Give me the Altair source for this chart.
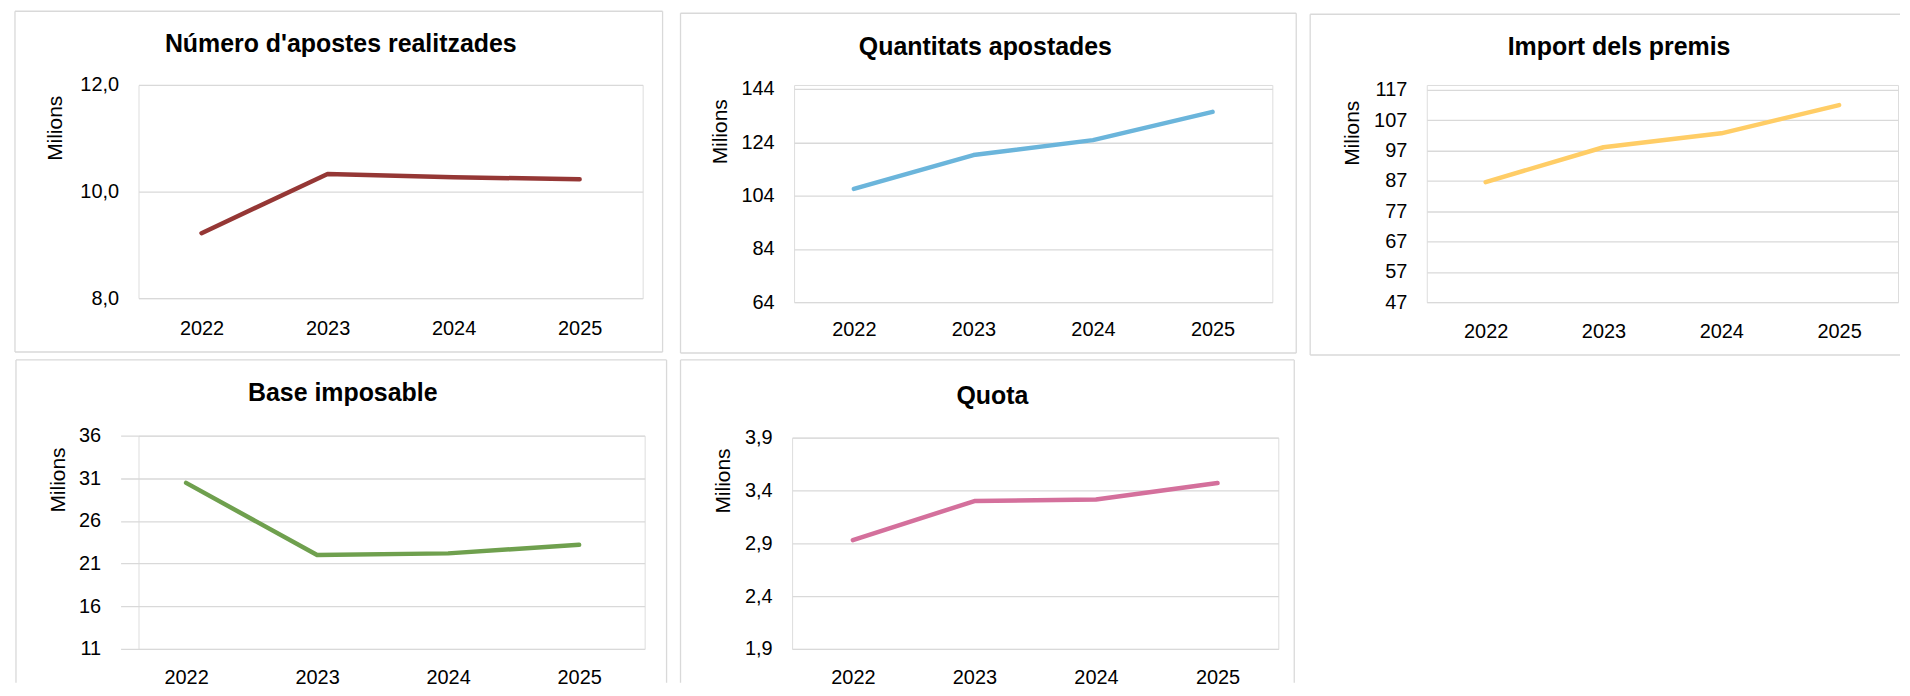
import altair as alt
import pandas as pd

years = ["2022", "2023", "2024", "2025"]

apostes = [9.22, 10.33, 10.27, 10.23]
quantitats = [106.5, 119.2, 124.8, 135.4]
premis = [86.6, 98.1, 102.7, 112.0]
base_imposable = [30.47, 22.0, 22.2, 23.2]
quota = [2.93, 3.30, 3.315, 3.47]

titles = ["Número d'apostes realitzades", "Quantitats apostades",
          "Import dels premis", "Base imposable", "Quota"]

ticks_apostes = [8, 10, 12]
ticks_quantitats = [64, 84, 104, 124, 144]
ticks_premis = [47, 57, 67, 77, 87, 97, 107, 117]
ticks_base = [11, 16, 21, 26, 31, 36]
ticks_quota = [1.9, 2.4, 2.9, 3.4, 3.9]

colors = ["#953735", "#6BB5DB", "#FFCD66", "#6FA04E", "#D4709C"]

FONT = "Liberation Sans"
FRAME = "#d9d9d9"
ONE = alt.Data(values=[{}])


def frame_rule(kind, x0, x1, y0, y1):
    r = alt.Chart(ONE).mark_rule(color=FRAME, strokeWidth=1.3)
    if kind == "top":
        return r.encode(x=alt.value(x0), x2=alt.value(x1), y=alt.value(y0))
    if kind == "bottom":
        return r.encode(x=alt.value(x0), x2=alt.value(x1), y=alt.value(y1))
    if kind == "left":
        return r.encode(x=alt.value(x0), y=alt.value(y0), y2=alt.value(y1))
    return r.encode(x=alt.value(x1), y=alt.value(y0), y2=alt.value(y1))


def panel(title, values, ticks, color, fmt, w, h, xr, yr, frame, edges,
          tx, ty, xpad, ypad, title_pos):
    df = pd.DataFrame({"year": years, "value": values})
    yscale = alt.Scale(domain=[ticks[0], ticks[-1]], range=yr, nice=False, zero=False)
    line = alt.Chart(df).mark_line(
        color=color, strokeWidth=4.5, strokeCap="round", strokeJoin="round"
    ).encode(
        x=alt.X("year:N", scale=alt.Scale(type="point", padding=0.5, range=xr),
                axis=alt.Axis(title=None, grid=False, domain=False, ticks=False,
                              labelAngle=0, labelPadding=xpad, labelFontSize=20,
                              labelFont=FONT, labelColor="#000000")),
        y=alt.Y("value:Q", scale=yscale,
                axis=alt.Axis(values=ticks, format=fmt,
                              labelExpr="replace(datum.label, '.', ',')",
                              title="Milions", titleX=tx, titleY=ty,
                              titleAngle=270, titleBaseline="middle",
                              titleAlign="center", titleFontSize=21,
                              titleFontWeight="normal", titleFont=FONT,
                              titleColor="#000000",
                              grid=True, gridColor=FRAME, gridWidth=1.3,
                              domain=False, ticks=False, labelPadding=ypad,
                              labelFontSize=20, labelFont=FONT,
                              labelColor="#000000")),
    )
    heading = alt.Chart(ONE).mark_text(
        font=FONT, fontSize=25, fontWeight="bold", color="#000000",
        align="center", baseline="middle"
    ).encode(x=alt.value(title_pos[0]), y=alt.value(title_pos[1]),
             text=alt.value(title))
    layers = [frame_rule(e, *frame) for e in edges] + [line, heading]
    return alt.layer(*layers).properties(width=w, height=h)


all4 = ["top", "bottom", "left", "right"]

p1 = panel(titles[0], apostes, ticks_apostes, colors[0], ".1f",
           506, 214, [0, 506], [214, 0], (-124, 526, -74, 268), all4,
           -83, 43, 20, 20, (203, -41))
p2 = panel(titles[1], quantitats, ticks_quantitats, colors[1], "d",
           480, 218, [0, 480], [218, 4], (-114, 504, -72, 269), all4,
           -74, 46.5, 17, 20, (192, -38.5))
p3 = panel(titles[2], premis, ticks_premis, colors[2], "d",
           473, 218, [0, 473], [218, 5], (-117, 475, -71, 271),
           ["top", "bottom", "left"], -75, 48, 19, 20, (193, -38.5))
p4 = panel(titles[3], base_imposable, ticks_base, colors[3], "d",
           508, 214, [-18, 508], [214, 0], (-123, 530, -76, 248),
           ["top", "left", "right"], -80.5, 44, 19, 38, (205, -43))
p5 = panel(titles[4], quota, ticks_quota, colors[4], ".1f",
           488, 212, [0, 488], [212, 0], (-112, 504, -78, 246),
           ["top", "left", "right"], -69, 43, 19, 20, (201, -42))

chart = alt.concat(
    p1, p2, p3, p4, p5, columns=3, align="none", bounds="full",
    spacing={"row": 1, "column": 10}
).properties(
    padding={"left": 5, "top": 0, "right": 0, "bottom": 0}
).configure_view(stroke=None).configure(background="#ffffff")

chart.save("out.html", embed_options={"renderer": "svg", "actions": False})
